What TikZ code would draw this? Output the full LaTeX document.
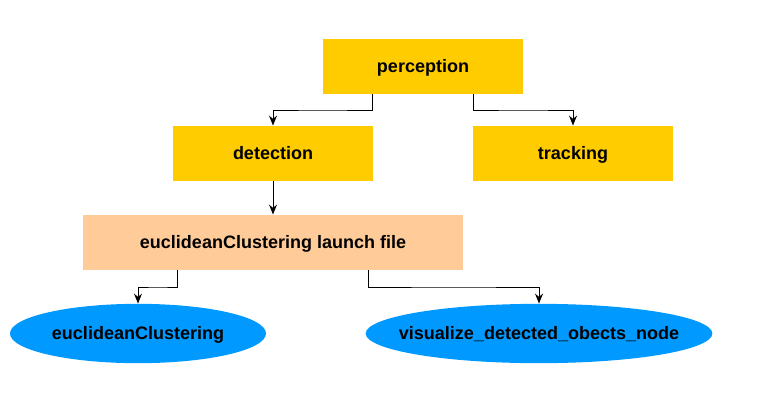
\documentclass[tikz,border=0pt]{standalone}
\usepackage{fontspec}
\setmainfont{Liberation Sans}
\usetikzlibrary{shapes.geometric,arrows.meta,calc}
\definecolor{boxyellow}{HTML}{FFCC00}
\definecolor{boxpeach}{HTML}{FFCC99}
\definecolor{nodeblue}{HTML}{0099FF}
\tikzset{lbl/.style={font=\bfseries\fontsize{13.5}{15}\selectfont,text height=12pt,text depth=2.8pt}}
\newcommand{\fixedlabel}[1]{\makebox[0pt]{#1}}
\begin{document}
\begin{tikzpicture}[x=0.75pt,y=-0.75pt,
  pkg/.style={lbl,fill=boxyellow,draw=none,minimum width=150pt,minimum height=41.5pt,inner sep=0pt},
  launchbox/.style={lbl,fill=boxpeach,draw=none,minimum width=285pt,minimum height=41.5pt,inner sep=0pt},
  rosnode/.style={lbl,ellipse,fill=nodeblue,draw=none,inner sep=0pt,minimum height=44.5pt},
  arr/.style={draw=black,line width=0.75pt,-{Stealth[length=7.5pt,width=6pt,inset=2.5pt]}}]
\useasboundingbox (0,0) rectangle (760,407);
\node[pkg] (perception) at (423,66.5) {perception};
\node[pkg] (detection) at (273,153.5) {detection};
\node[pkg] (tracking) at (573,153.5) {tracking};
\node[launchbox] (launch) at (273,242.5) {euclideanClustering launch file};
\node[rosnode,minimum width=192pt] (ec) at (138,333.5) {\fixedlabel{euclideanClustering}};
\node[rosnode,minimum width=260pt] (viz) at (539,333.5) {\fixedlabel{visualize\_detected\_obects\_node}};
\coordinate (p1) at ($(perception.south west)!0.25!(perception.south east)$);
\coordinate (p2) at ($(perception.south west)!0.75!(perception.south east)$);
\coordinate (l1) at ($(launch.south west)!0.25!(launch.south east)$);
\coordinate (l2) at ($(launch.south west)!0.75!(launch.south east)$);
\draw[arr] (p1) |- ($(p1)!0.5!(detection.north)$) -| (detection.north);
\draw[arr] (p2) |- ($(p2)!0.5!(tracking.north)$) -| (tracking.north);
\draw[arr] (detection.south) -- (launch.north);
\draw[arr] (l1) |- ($(l1)!0.5!(ec.north)$) -| (ec.north);
\draw[arr] (l2) |- ($(l2)!0.5!(viz.north)$) -| (viz.north);
\end{tikzpicture}
\end{document}
